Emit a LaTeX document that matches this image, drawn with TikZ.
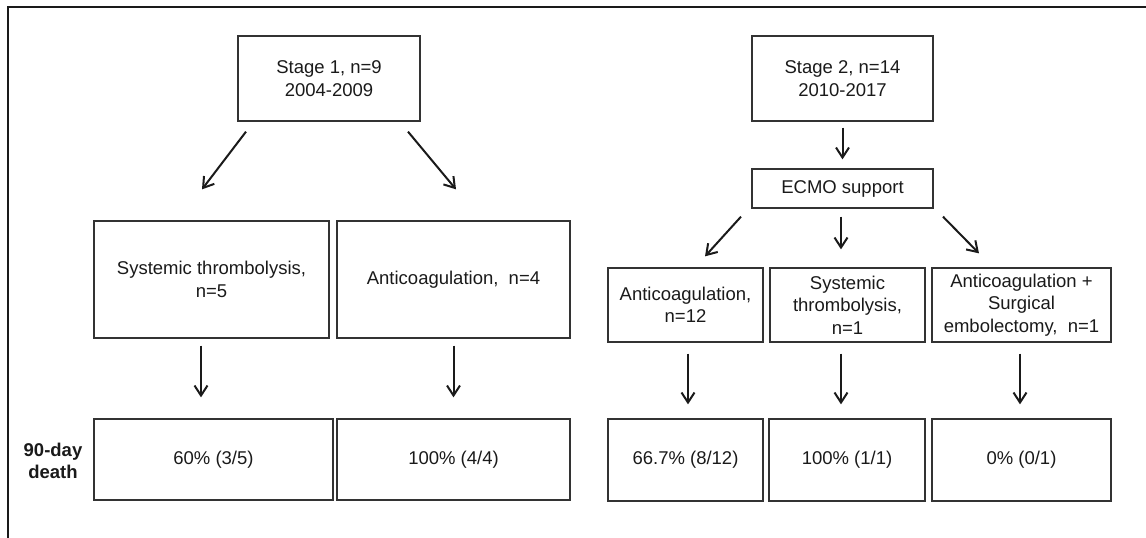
\documentclass[tikz,border=0pt]{standalone}
\usepackage{fontspec}
\setmainfont{Liberation Sans}
\usepackage{xcolor}
\usetikzlibrary{arrows.meta}
\definecolor{boxline}{HTML}{333333}
\definecolor{ink}{HTML}{1A1A1A}

\begin{document}
\begin{tikzpicture}[
    x=1pt, y=-1pt,
    font=\fontsize{18.5}{22.5}\selectfont,
    box/.style={draw=boxline, line width=1.3pt, rectangle, inner sep=0pt, align=center, text=ink},
    arr/.style={-{Straight Barb[length=10pt,width=13pt]}, line width=2pt, draw=ink}
]
    \useasboundingbox (0,0) rectangle (1146,538);

    % Frame
    \draw[line width=2pt, draw=ink] (8,538) -- (8,7) -- (1146,7);

    % Stage 1
    \node[box, minimum width=182pt, minimum height=85pt] (stageone) at (329,78.5) {Stage 1, n=9\\2004-2009};
    \node[box, minimum width=235pt, minimum height=117pt] (sysone) at (211.5,279.5) {Systemic thrombolysis,\\n=5};
    \node[box, minimum width=233pt, minimum height=117pt] (antione) at (453.5,279.5) {Anticoagulation,~ n=4};
    \node[box, minimum width=239pt, minimum height=81pt] (deathone) at (213.5,459.5) {60\% (3/5)};
    \node[box, minimum width=233pt, minimum height=81pt] (deathtwo) at (453.5,459.5) {100\% (4/4)};

    % Stage 2
    \node[box, minimum width=181pt, minimum height=85pt] (stagetwo) at (842.5,78.5) {Stage 2, n=14\\2010-2017};
    \node[box, minimum width=181pt, minimum height=39pt] (ecmo) at (842.5,188.5) {ECMO support};
    \node[box, minimum width=155pt, minimum height=74pt] (antitwo) at (685.5,305) {Anticoagulation,\\n=12};
    \node[box, minimum width=155pt, minimum height=74pt] (systwo) at (847.5,305) {Systemic\\thrombolysis,\\n=1};
    \node[box, minimum width=179pt, minimum height=74pt] (surg) at (1021.5,305) {Anticoagulation +\\Surgical\\embolectomy,~ n=1};
    \node[box, minimum width=155pt, minimum height=82pt] (deaththree) at (685.5,460) {66.7\% (8/12)};
    \node[box, minimum width=156pt, minimum height=82pt] (deathfour) at (847,460) {100\% (1/1)};
    \node[box, minimum width=179pt, minimum height=82pt] (deathfive) at (1021.5,460) {0\% (0/1)};

    % Row label
    \node[font=\fontsize{18.5}{22.5}\selectfont\bfseries, align=center, text=ink] (deathlabel) at (53,461) {90-day\\death};

    % Arrows
    \draw[arr] ([shift={(-83,10)}]stageone.south) -- ([shift={(-9.5,-31)}]sysone.north);
    \draw[arr] ([shift={(79,10)}]stageone.south) -- ([shift={(2.5,-31)}]antione.north);
    \draw[arr] ([shift={(-10.5,7)}]sysone.south) -- ([shift={(-12.5,-21)}]deathone.north);
    \draw[arr] ([shift={(0,7)}]antione.south) -- ([shift={(0,-21)}]deathtwo.north);

    \draw[arr] ([shift={(0,6)}]stagetwo.south) -- ([shift={(0,-9)}]ecmo.north);
    \draw[arr] ([shift={(-101.5,8)}]ecmo.south) -- ([shift={(19.5,-11)}]antitwo.north);
    \draw[arr] ([shift={(-1.5,8)}]ecmo.south) -- ([shift={(-6.5,-18)}]systwo.north);
    \draw[arr] ([shift={(100.5,8)}]ecmo.south) -- ([shift={(-42.5,-14)}]surg.north);
    \draw[arr] ([shift={(2.5,11)}]antitwo.south) -- ([shift={(2.5,-14)}]deaththree.north);
    \draw[arr] ([shift={(-6.5,11)}]systwo.south) -- ([shift={(-6,-14)}]deathfour.north);
    \draw[arr] ([shift={(-1.5,11)}]surg.south) -- ([shift={(-1.5,-14)}]deathfive.north);
\end{tikzpicture}
\end{document}
